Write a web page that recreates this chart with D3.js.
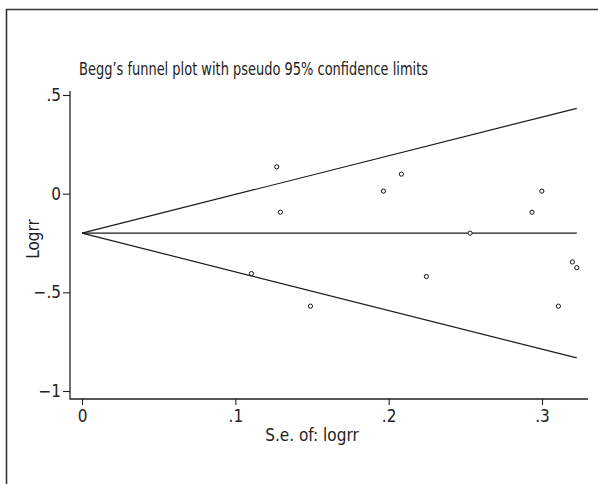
<!DOCTYPE html>
<html>
<head>
<meta charset="utf-8">
<script src="https://cdn.jsdelivr.net/npm/d3@7"></script>
<style>
  html, body { margin: 0; padding: 0; background: #fff; }
  svg text { font-family: "Liberation Sans Narrow", "DejaVu Sans Condensed", "Arial Narrow", sans-serif; fill: #222; }
</style>
</head>
<body>
<script>
// Study standard errors and log relative risks
const seValues = [0.127, 0.1294, 0.1105, 0.149, 0.2083, 0.1966, 0.2999, 0.2935, 0.2531, 0.2246, 0.3198, 0.3227, 0.3107];
const logrrValues = [0.136, -0.094, -0.405, -0.570, 0.099, 0.013, 0.013, -0.094, -0.200, -0.420, -0.346, -0.375, -0.570];
// Fixed-effect pooled estimate and z for pseudo 95% limits
const pooled = [-0.20];
const zValue = [1.96];
const xTicks = [0, 0.1, 0.2, 0.3];
const xTickLabels = ["0", ".1", ".2", ".3"];
const yTicks = [0.5, 0, -0.5, -1];
const yTickLabels = [".5", "0", "\u2212.5", "\u22121"];
const titleText = ["Begg\u2019s funnel plot with pseudo 95% confidence limits"];
const xTitle = ["S.e. of: logrr"];
const yTitle = ["Logrr"];

const W = 598, H = 484;
const svg = d3.select("body").append("svg").attr("width", W).attr("height", H);

// outer frame (open at right/bottom edges of the page)
svg.append("path")
  .attr("d", `M6.5,${H} L6.5,9.5 L${W},9.5`)
  .attr("fill", "none").attr("stroke", "#333").attr("stroke-width", 1.6);

const x = d3.scaleLinear().domain([0, 0.3]).range([82, 542]);
const y = d3.scaleLinear().domain([-1, 0.5]).range([391, 95]);

const axisLeftX = 70, axisBottomY = 399, axisRightX = 588, axisTopY = 91;

// axis lines
svg.append("line").attr("x1", axisLeftX).attr("x2", axisLeftX)
  .attr("y1", axisTopY).attr("y2", axisBottomY + 0.5)
  .attr("stroke", "#222").attr("stroke-width", 1.3);
svg.append("line").attr("x1", axisLeftX).attr("x2", axisRightX)
  .attr("y1", axisBottomY).attr("y2", axisBottomY)
  .attr("stroke", "#222").attr("stroke-width", 1.3);

// y axis
const yAxis = d3.axisLeft(y).tickValues(yTicks)
  .tickFormat((d, i) => yTickLabels[i]).tickSize(7).tickPadding(2);
const gy = svg.append("g").attr("transform", `translate(${axisLeftX},0)`).call(yAxis);
gy.select(".domain").remove();
gy.selectAll(".tick line").attr("stroke", "#222").attr("stroke-width", 1.1);
gy.selectAll(".tick text").attr("font-size", 17).attr("fill", "#222");

// x axis
const xAxis = d3.axisBottom(x).tickValues(xTicks)
  .tickFormat((d, i) => xTickLabels[i]).tickSize(6).tickPadding(5);
const gx = svg.append("g").attr("transform", `translate(0,${axisBottomY})`).call(xAxis);
gx.select(".domain").remove();
gx.selectAll(".tick line").attr("stroke", "#222").attr("stroke-width", 1.1);
gx.selectAll(".tick text").attr("font-size", 17).attr("fill", "#222");

// funnel: pooled line and pseudo confidence limits
const seMax = d3.max(seValues);
const p = pooled[0], z = zValue[0];
const line = d3.line().x(d => x(d[0])).y(d => y(d[1]));
const funnel = [
  [[0, p], [seMax, p]],
  [[0, p], [seMax, p + z * seMax]],
  [[0, p], [seMax, p - z * seMax]]
];
svg.append("g").selectAll("path").data(funnel).join("path")
  .attr("d", line).attr("fill", "none")
  .attr("stroke", "#1a1a1a").attr("stroke-width", 1.2);

// study points
svg.append("g").selectAll("circle").data(seValues).join("circle")
  .attr("cx", d => x(d))
  .attr("cy", (d, i) => y(logrrValues[i]))
  .attr("r", 2.1)
  .attr("fill", "#fff").attr("stroke", "#111").attr("stroke-width", 1);

// titles
svg.append("text").attr("x", 79).attr("y", 75)
  .attr("font-size", 18).attr("textLength", 349).attr("lengthAdjust", "spacingAndGlyphs")
  .text(titleText[0]);
svg.append("text").attr("x", 312).attr("y", 441).attr("text-anchor", "middle")
  .attr("font-size", 17).text(xTitle[0]);
svg.append("text").attr("transform", "translate(39,239) rotate(-90)")
  .attr("text-anchor", "middle").attr("font-size", 17).text(yTitle[0]);
</script>
</body>
</html>
